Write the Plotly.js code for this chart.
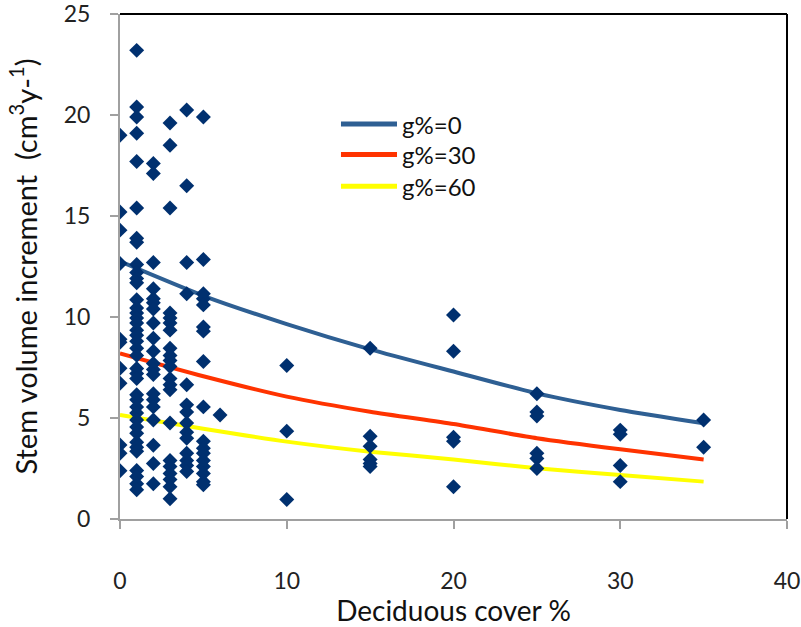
<!DOCTYPE html>
<html>
<head>
<meta charset="utf-8">
<script src="https://cdn.plot.ly/plotly-3.0.1.min.js"></script>
<style>html,body{margin:0;padding:0;background:#fff;}#chart{width:801px;height:627px;}</style>
</head>
<body>
<div id="chart"></div>
<script>
// Observed stem volume increments, grouped by deciduous cover (%)
const coverLevels = [0, 1, 2, 3, 4, 5, 6, 10, 15, 20, 25, 30, 35];
const incAt0  = [19.0, 15.2, 14.3, 12.65, 8.9, 8.75, 7.46, 6.72, 3.66, 3.25, 2.39];
const incAt1  = [23.2, 20.4, 19.9, 19.1, 17.7, 15.4, 13.9, 13.7, 12.6, 12.2, 11.9, 11.7, 10.85, 10.45, 10.2, 9.95, 9.7, 9.35, 9.1, 8.8, 8.45, 8.1, 7.45, 7.2, 6.95, 6.15, 5.9, 5.55, 5.25, 4.9, 4.55, 4.25, 3.8, 3.55, 3.35, 2.4, 2.1, 1.75, 1.45];
const incAt2  = [17.6, 17.1, 12.7, 11.4, 10.9, 10.7, 10.4, 9.7, 8.95, 8.3, 7.7, 7.4, 7.15, 6.2, 5.9, 5.55, 4.9, 3.65, 2.75, 1.75];
const incAt3  = [19.6, 18.5, 15.4, 10.2, 9.95, 9.7, 9.35, 8.45, 8.1, 7.85, 7.55, 6.95, 6.65, 6.4, 4.75, 2.9, 2.6, 2.25, 1.95, 1.6, 1.0];
const incAt4  = [20.25, 16.5, 12.7, 11.15, 6.65, 5.65, 5.3, 4.75, 4.3, 4.0, 3.25, 2.9, 2.65, 2.35];
const incAt5  = [19.9, 12.85, 11.15, 10.9, 10.6, 9.5, 9.3, 7.8, 5.55, 3.85, 3.5, 3.25, 2.9, 2.6, 2.25, 1.85, 1.7];
const incAt6  = [5.15];
const incAt10 = [7.6, 4.35, 0.97];
const incAt15 = [8.45, 4.1, 3.6, 2.95, 2.75, 2.6];
const incAt20 = [10.1, 8.3, 4.05, 3.85, 1.6];
const incAt25 = [6.2, 5.3, 5.1, 3.25, 3.0, 2.5];
const incAt30 = [4.4, 4.2, 2.65, 1.85];
const incAt35 = [4.9, 3.55];
const incGroups = [incAt0, incAt1, incAt2, incAt3, incAt4, incAt5, incAt6, incAt10, incAt15, incAt20, incAt25, incAt30, incAt35];

// Model curves
const curveX = [0, 5, 10, 15, 20, 25, 30, 35];
const g0  = [12.75, 11.05, 9.65, 8.4, 7.3, 6.22, 5.4, 4.74];
const g30 = [8.2, 7.07, 6.06, 5.31, 4.7, 4.0, 3.45, 2.95];
const g60 = [5.15, 4.47, 3.83, 3.33, 2.95, 2.51, 2.18, 1.85];
const curveNames = ['g%=0', 'g%=30', 'g%=60'];
const curveColors = ['#2E5F93', '#FF3300', '#FFFF00'];

const ptsX = [], ptsY = [];
incGroups.forEach((g, i) => g.forEach(v => { ptsX.push(coverLevels[i]); ptsY.push(v); }));

const FONT = 'Lato, "Open Sans", sans-serif';
const curves = [g0, g30, g60];
const traces = curves.map((c, i) => ({
  x: curveX, y: c, name: curveNames[i], mode: 'lines', showlegend: false,
  line: {color: curveColors[i], width: 4, shape: 'spline', smoothing: 0.6}
}));
traces.push({x: ptsX, y: ptsY, mode: 'markers', showlegend: false,
  marker: {symbol: 'diamond', size: 11.5, color: '#00306F', line: {width: 0}}});

// Legend (key lines + labels at the reference position)
const legX0 = 0.3313, legX1 = 0.4153, legTextX = 0.4198;
const legY = [0.782, 0.722, 0.659];
const shapes = [
  {type: 'line', xref: 'paper', yref: 'paper', x0: 0, x1: 1, y0: 1, y1: 1, line: {color: '#000', width: 2}},
  {type: 'line', xref: 'paper', yref: 'paper', x0: 1, x1: 1, y0: 0, y1: 1, line: {color: '#000', width: 2}}
];
const annotations = [];
curveNames.forEach((n, i) => {
  shapes.push({type: 'line', xref: 'paper', yref: 'paper', x0: legX0, x1: legX1, y0: legY[i], y1: legY[i],
               line: {color: curveColors[i], width: 5}});
  annotations.push({xref: 'paper', yref: 'paper', x: legTextX, y: legY[i], xanchor: 'left', yanchor: 'middle',
                    text: n, showarrow: false, font: {size: 24, color: '#111'}});
});

const layout = {
  width: 801, height: 627,
  margin: {l: 120, r: 14, t: 14, b: 108},
  paper_bgcolor: '#fff', plot_bgcolor: '#fff',
  font: {family: FONT, size: 23, color: '#222'},
  showlegend: false,
  xaxis: {range: [0, 40], dtick: 10, tick0: 0, showgrid: false, zeroline: false,
          showline: true, linecolor: '#A0A0A0', linewidth: 2,
          ticks: 'outside', ticklen: 8, tickwidth: 2, tickcolor: '#A0A0A0',
          ticklabelstandoff: 32, ticklabeloverflow: 'allow',
          title: {text: 'Deciduous cover %', font: {size: 28, color: '#111'}, standoff: 7}},
  yaxis: {range: [0, 25], dtick: 5, tick0: 0, showgrid: false, zeroline: false,
          showline: true, linecolor: '#A0A0A0', linewidth: 2,
          ticks: 'outside', ticklen: 8, tickwidth: 2, tickcolor: '#A0A0A0',
          ticklabelstandoff: 15, ticklabeloverflow: 'allow',
          title: {text: 'Stem volume increment  (cm<sup>3</sup>y-<sup>1</sup>)', font: {size: 29, color: '#111'}, standoff: 18}},
  shapes: shapes,
  annotations: annotations
};

Plotly.newPlot('chart', traces, layout, {displayModeBar: false, staticPlot: true});
</script>
</body>
</html>
